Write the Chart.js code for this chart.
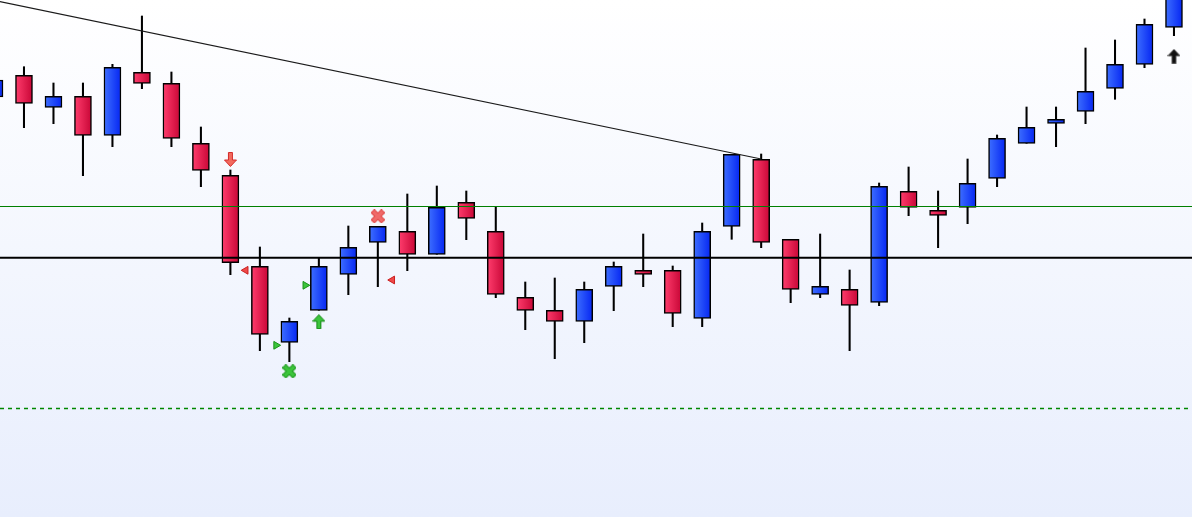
<!DOCTYPE html>
<html>
<head>
<meta charset="utf-8">
<script src="https://cdn.jsdelivr.net/npm/chart.js@4.4.1/dist/chart.umd.min.js"></script>
<style>
  html, body { margin: 0; padding: 0; }
  body { width: 1192px; height: 517px; overflow: hidden;
         background: linear-gradient(to bottom, #ffffff 0%, #e8eefd 100%); }
  #wrap { position: relative; width: 1192px; height: 517px; }
</style>
</head>
<body>
<div id="wrap"><canvas id="candleChart"></canvas></div>
<script>
// candle values (price points), one entry per bar, oldest first
var opens  = [420, 441.7, 409.7, 420.7, 381.7, 444.7, 433.7, 373.7, 341.7, 250.7, 174.7, 206.7, 242.7, 274.7, 285.7, 262.7, 314.7, 285.7, 219.7, 206.7, 195.7, 230.7, 246.7, 246.7, 198.7, 290.7, 357.7, 277.7, 222.7, 227.7, 214.7, 325.7, 306.7, 309.7, 338.7, 373.7, 393.7, 405.7, 428.7, 452.7, 489.7];
var highs  = [440, 450.3, 434, 434, 452.7, 501, 445, 390, 347, 270, 199, 258.7, 291, 290.7, 323, 331, 326, 310.3, 235, 239, 235, 255, 283, 251, 294, 362.7, 363, 277.7, 283, 247, 334, 350, 326, 358, 382, 410, 410, 469, 477, 498, 530];
var lows   = [416, 389.3, 393.3, 341.3, 370.3, 428.3, 370.3, 330.3, 242.3, 166.3, 155.3, 206.7, 222.3, 230.3, 246.3, 262.7, 277.3, 219.3, 187.3, 158.3, 174.3, 206.3, 230.3, 190.3, 190.3, 277.7, 269.3, 214.3, 219.3, 166.3, 211.3, 301.3, 269.3, 293.3, 330.3, 373.7, 370.3, 393.3, 417.7, 449.3, 481.3];
var closes = [437, 413.7, 420.7, 381.7, 449.7, 433.7, 378.7, 346.7, 254.3, 182.7, 195.7, 250.7, 269.7, 290.7, 262.7, 309.7, 298.7, 222.7, 206.7, 195.7, 227.7, 250.7, 242.7, 203.7, 285.7, 362.7, 274.7, 227.7, 230.7, 211.7, 330.7, 309.7, 301.7, 333.7, 378.7, 389.7, 397.7, 425.7, 452.7, 492.7, 525];

// horizontal levels
var pivotLevel = 259.3;
var resistLevel = 310.5;
var supportLevel = 108.5;

// trend line ends [barIndex, price]
var trendStart = [0, 516.4];
var trendEnd = [26, 358];

// signal markers [barIndex, price]
var sellArrows = [[8, 357.5]];
var buyArrows = [[11, 195.3]];
var lastArrows = [[40, 460.7]];
var redCrosses = [[13, 300.7]];
var greenCrosses = [[10, 145.7]];
var redFlags = [[8.52, 246.7], [13.49, 237]];
var greenFlags = [[9.55, 171.7], [10.54, 231.7]];

var xMin = 0.1865;
var xMax = 40.611;

function toPoints(list) {
  return list.map(function (p) { return { x: p[0], y: p[1] }; });
}

// small canvas icons used as point styles
function makeArrow(fill, stroke, down) {
  var c = document.createElement("canvas");
  c.width = 13; c.height = 15;
  var g = c.getContext("2d");
  if (down) { g.translate(0, 15); g.scale(1, -1); }
  g.beginPath();
  g.moveTo(6.5, 0.5);
  g.lineTo(12.5, 7);
  g.lineTo(8.5, 7);
  g.lineTo(8.5, 14.5);
  g.lineTo(4.5, 14.5);
  g.lineTo(4.5, 7);
  g.lineTo(0.5, 7);
  g.closePath();
  g.fillStyle = fill;
  g.fill();
  g.lineWidth = 1;
  g.strokeStyle = stroke;
  g.stroke();
  return c;
}

function makeCross(fill, stroke) {
  var c = document.createElement("canvas");
  c.width = 14; c.height = 14;
  var g = c.getContext("2d");
  g.lineCap = "square";
  g.beginPath();
  g.moveTo(3.5, 3.5); g.lineTo(10.5, 10.5);
  g.moveTo(10.5, 3.5); g.lineTo(3.5, 10.5);
  g.strokeStyle = stroke;
  g.lineWidth = 5.5;
  g.stroke();
  g.strokeStyle = fill;
  g.lineWidth = 3.5;
  g.stroke();
  return c;
}

var redArrowImg = makeArrow("#f26a5e", "#d42a2a", true);
var greenArrowImg = makeArrow("#3cc43c", "#138a13", false);
var blackArrowImg = makeArrow("#111111", "#555555", false);
var redCrossImg = makeCross("#f06a6a", "#e04848");
var greenCrossImg = makeCross("#3cc43c", "#1e9a1e");

var bodyData = opens.map(function (o, i) { return { x: i, y: [o, closes[i]] }; });
var wickData = highs.map(function (h, i) { return { x: i, y: [lows[i], h] }; });

function bodyFill(ctx) {
  var chart = ctx.chart;
  if (!chart.chartArea || !ctx.raw) return "#888";
  var px = chart.scales.x.getPixelForValue(ctx.raw.x);
  var g = chart.ctx.createLinearGradient(px - 8.5, 0, px + 8.5, 0);
  if (ctx.raw.y[1] >= ctx.raw.y[0]) {
    g.addColorStop(0, "#3e6fff");
    g.addColorStop(1, "#0526f2");
  } else {
    g.addColorStop(0, "#ff3d6d");
    g.addColorStop(1, "#c80636");
  }
  return g;
}

function levelLine(v) {
  return [{ x: xMin, y: v }, { x: xMax, y: v }];
}

var ctx = document.getElementById("candleChart").getContext("2d");

var candleChart = new Chart(ctx, {
  type: "bar",
  data: {
    datasets: [
      { type: "scatter", data: toPoints(sellArrows), pointStyle: redArrowImg, order: 0 },
      { type: "scatter", data: toPoints(buyArrows), pointStyle: greenArrowImg, order: 0 },
      { type: "scatter", data: toPoints(lastArrows), pointStyle: blackArrowImg, order: 0 },
      { type: "scatter", data: toPoints(redCrosses), pointStyle: redCrossImg, order: 0 },
      { type: "scatter", data: toPoints(greenCrosses), pointStyle: greenCrossImg, order: 0 },
      { type: "scatter", data: toPoints(redFlags), pointStyle: "triangle", rotation: -90,
        pointRadius: 4.5, backgroundColor: "#f04848", borderColor: "#c82020", borderWidth: 1, order: 0 },
      { type: "scatter", data: toPoints(greenFlags), pointStyle: "triangle", rotation: 90,
        pointRadius: 4.5, backgroundColor: "#3cc43c", borderColor: "#159015", borderWidth: 1, order: 0 },
      { type: "line", data: [{ x: trendStart[0], y: trendStart[1] }, { x: trendEnd[0], y: trendEnd[1] }],
        borderColor: "#1a1a1a", borderWidth: 1.2, pointRadius: 0, order: 1 },
      { type: "line", data: levelLine(pivotLevel), borderColor: "#000000", borderWidth: 2, pointRadius: 0, order: 1 },
      { type: "line", data: levelLine(resistLevel), borderColor: "#008000", borderWidth: 1.2, pointRadius: 0, order: 1 },
      { type: "line", data: levelLine(supportLevel), borderColor: "#008800", borderWidth: 1.5,
        borderDash: [4, 4], pointRadius: 0, order: 1 },
      { data: bodyData, backgroundColor: bodyFill, borderColor: "#000000", borderWidth: 1.5,
        borderSkipped: false, barThickness: 17, grouped: false, order: 2 },
      { data: wickData, backgroundColor: "#000000", borderWidth: 0,
        barThickness: 1.4, grouped: false, order: 3 }
    ]
  },
  options: {
    responsive: true,
    maintainAspectRatio: false,
    animation: false,
    layout: { padding: 0, autoPadding: false },
    plugins: { legend: { display: false }, tooltip: { enabled: false } },
    scales: {
      x: { type: "linear", min: xMin, max: xMax, offset: false, display: false },
      y: { type: "linear", min: 0, max: 517, display: false }
    }
  }
});
</script>
</body>
</html>
